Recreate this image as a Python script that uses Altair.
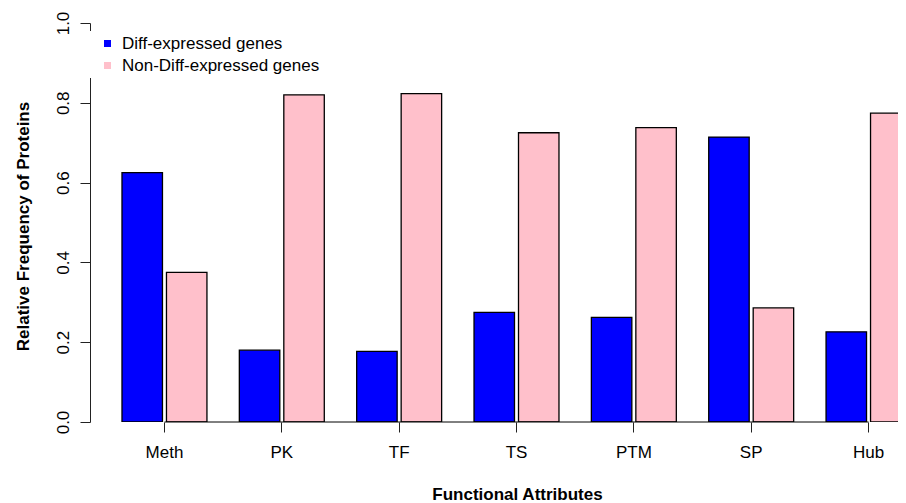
import altair as alt
import pandas as pd

categories = ["Meth", "PK", "TF", "TS", "PTM", "SP", "Hub"]
diff_expressed = [0.625, 0.180, 0.177, 0.275, 0.262, 0.714, 0.226]
non_diff_expressed = [0.375, 0.820, 0.823, 0.725, 0.738, 0.286, 0.774]
groups = ["Diff-expressed genes", "Non-Diff-expressed genes"]
colors = ["#0000FF", "#FFC0CB"]
y_ticks = [0.0, 0.2, 0.4, 0.6, 0.8, 1.0]

rows = []
for c, d, n in zip(categories, diff_expressed, non_diff_expressed):
    rows.append({"attr": c, "group": groups[0], "freq": d})
    rows.append({"attr": c, "group": groups[1], "freq": n})
df = pd.DataFrame(rows)

baseline_df = pd.DataFrame({"attr": [categories[0]], "attr_end": [categories[-1]], "freq": [0.0]})

FONT = "Liberation Sans"
XTITLE = "Functional Attributes"
YTITLE = "Relative Frequency of Proteins"

xscale = alt.Scale(domain=categories, range=[0, 853], paddingInner=0.276, paddingOuter=0.2726)
yscale = alt.Scale(domain=[0, 1], nice=False)

x_axis = alt.Axis(
    title=XTITLE, domain=False, ticks=True, tickSize=10, tickColor="#222", tickWidth=1,
    labelFont=FONT, labelFontSize=17, labelColor="black", labelAngle=0, labelPadding=12,
    titleFont=FONT, titleFontSize=17, titleFontWeight="bold", titleColor="black",
    titleX=427, titleY=77, titleAlign="center", titleBaseline="alphabetic",
)
y_axis = alt.Axis(
    title=YTITLE, values=y_ticks, format=".1f", grid=False, domain=True, domainColor="#222",
    tickSize=10, tickColor="#222", labelFont=FONT, labelFontSize=17, labelColor="black",
    labelAngle=270, labelAlign="center", labelBaseline="alphabetic", labelPadding=12,
    titleFont=FONT, titleFontSize=17, titleFontWeight="bold", titleColor="black",
    titleAngle=270, titleX=-62, titleY=203, titleAlign="center", titleBaseline="alphabetic",
)

bars = alt.Chart(df).mark_bar(stroke="black", strokeWidth=1.3, clip=True).encode(
    x=alt.X("attr:N", scale=xscale, sort=categories, axis=x_axis),
    xOffset=alt.XOffset("group:N", sort=groups, scale=alt.Scale(paddingInner=0.09, paddingOuter=0)),
    y=alt.Y("freq:Q", scale=yscale, axis=y_axis),
    color=alt.Color(
        "group:N", scale=alt.Scale(domain=groups, range=colors),
        legend=alt.Legend(
            title=None, orient="none", legendX=-4, legendY=8, fillColor="white", padding=4,
            symbolType="square", symbolSize=49, symbolStrokeWidth=0, symbolOffset=9,
            labelFont=FONT, labelFontSize=17, labelColor="black", labelOffset=6, rowPadding=4,
            labelLimit=0,
        ),
    ),
)

rule = alt.Chart(baseline_df).mark_rule(color="black", strokeWidth=1).encode(
    x=alt.X("attr:N", scale=xscale, sort=categories, title=XTITLE),
    x2="attr_end:N",
    y=alt.Y("freq:Q", scale=yscale, title=YTITLE),
)

chart = alt.layer(bars, rule).properties(
    width=808, height=399,
    autosize=alt.AutoSizeParams(type="none"),
    padding={"left": 82, "top": 15, "right": 0, "bottom": 80},
    background="white",
).configure_view(stroke=None)

chart.save("out.html", embed_options={"renderer": "svg", "actions": False})
